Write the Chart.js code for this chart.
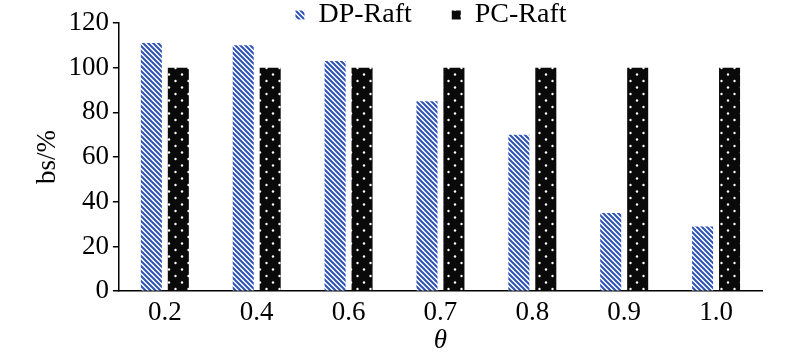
<!DOCTYPE html>
<html>
<head>
<meta charset="utf-8">
<script src="https://cdn.jsdelivr.net/npm/chart.js@4/dist/chart.umd.min.js"></script>
<style>
  html, body { margin: 0; padding: 0; background: #fff; }
  #wrap { width: 800px; height: 358px; }
</style>
</head>
<body>
<div id="wrap"><canvas id="myChart" width="800" height="358"></canvas></div>
<script>
const categorias = ["0.2", "0.4", "0.6", "0.7", "0.8", "0.9", "1.0"];
const valoresDP = [111, 110, 103, 85, 70, 35, 29];
const valoresPC = [100, 100, 100, 100, 100, 100, 100];
const ticksY = [0, 20, 40, 60, 80, 100, 120];

// patron de rayas azules
function patronRayas() {
    const c = document.createElement("canvas");
    c.width = 5;
    c.height = 5;
    const g = c.getContext("2d");
    g.fillStyle = "#ffffff";
    g.fillRect(0, 0, 5, 5);
    g.strokeStyle = "#2c52b8";
    g.lineWidth = 2;
    g.beginPath();
    g.moveTo(-1, -1); g.lineTo(6, 6);
    g.moveTo(-6, -1); g.lineTo(1, 6);
    g.moveTo(4, -1); g.lineTo(11, 6);
    g.stroke();
    return g.createPattern(c, "repeat");
}

// patron negro con puntos blancos
function patronPuntos() {
    const c = document.createElement("canvas");
    c.width = 13;
    c.height = 13;
    const g = c.getContext("2d");
    g.fillStyle = "#0a0a0a";
    g.fillRect(0, 0, 13, 13);
    g.fillStyle = "#ffffff";
    const puntos = [[6.5, 3], [0, 9.5], [13, 9.5]];
    for (const p of puntos) {
        g.beginPath();
        g.arc(p[0], p[1], 1.2, 0, Math.PI * 2);
        g.fill();
    }
    return g.createPattern(c, "repeat");
}

const fuente = "'Liberation Serif', 'Times New Roman', serif";
const espacioLeyenda = 40;

// mueve la leyenda (mas separacion horizontal sin ocupar alto)
const ajusteLeyenda = {
    id: "ajusteLeyenda",
    afterLayout(chart) {
        const l = chart.legend;
        l.top = -espacioLeyenda + 1;
        l.bottom = 40;
        l.left += 34;
        l.right += 34;
    }
};

const ctx = document.getElementById("myChart").getContext("2d");

const chart = new Chart(ctx, {
    type: "bar",
    data: {
        labels: categorias,
        datasets: [
            {
                label: "DP-Raft",
                data: valoresDP,
                backgroundColor: patronRayas(),
                borderWidth: 0,
                barPercentage: 0.78,
                categoryPercentage: 0.587
            },
            {
                label: "PC-Raft",
                data: valoresPC,
                backgroundColor: patronPuntos(),
                borderWidth: 0,
                barPercentage: 0.78,
                categoryPercentage: 0.587
            }
        ]
    },
    plugins: [ajusteLeyenda],
    options: {
        responsive: false,
        animation: false,
        layout: {
            padding: { left: 32, right: 38, top: 0, bottom: 1 }
        },
        plugins: {
            tooltip: { enabled: false },
            legend: {
                position: "top",
                maxHeight: 23,
                labels: {
                    color: "#000",
                    font: { family: fuente, size: 28 },
                    boxWidth: 9,
                    boxHeight: 9,
                    padding: espacioLeyenda
                }
            }
        },
        scales: {
            x: {
                grid: { display: false, drawTicks: false },
                border: { display: true, color: "#000", width: 1.5 },
                ticks: {
                    color: "#000",
                    font: { family: fuente, size: 27 },
                    padding: 6
                },
                title: {
                    display: true,
                    text: "θ",
                    color: "#000",
                    font: { family: fuente, size: 27, style: "italic" },
                    padding: { top: -11, bottom: 0 }
                }
            },
            y: {
                min: 0,
                max: 120,
                afterBuildTicks: axis => {
                    axis.ticks = ticksY.map(v => ({ value: v }));
                },
                grid: {
                    drawOnChartArea: false,
                    drawTicks: true,
                    tickLength: 6,
                    color: "#000",
                    lineWidth: 1.5
                },
                border: { display: true, color: "#000", width: 1.5 },
                ticks: {
                    color: "#000",
                    font: { family: fuente, size: 27 },
                    padding: 4
                },
                title: {
                    display: true,
                    text: "bs/%",
                    color: "#000",
                    font: { family: fuente, size: 27 },
                    padding: { top: 0, bottom: 0 }
                }
            }
        }
    }
});
</script>
</body>
</html>
